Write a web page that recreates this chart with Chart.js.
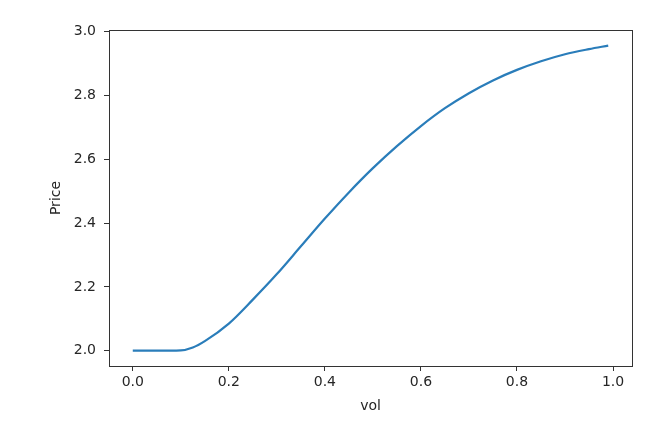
<!DOCTYPE html>
<html>
<head>
<meta charset="utf-8">
<script src="https://cdn.jsdelivr.net/npm/chart.js@4.4.1/dist/chart.umd.min.js"></script>
<style>
  html, body { margin: 0; padding: 0; background: #fff; }
  #wrap { width: 670px; height: 436px; }
</style>
</head>
<body>
<div id="wrap"><canvas id="myChart" width="670" height="436"></canvas></div>
<script>
// values
const vol = [0.00, 0.05, 0.10, 0.125, 0.15, 0.20, 0.25, 0.30, 0.35, 0.40, 0.45, 0.50,
  0.55, 0.60, 0.65, 0.70, 0.75, 0.80, 0.85, 0.90, 0.95, 0.99];
const price = [2.000, 2.000, 2.001, 2.010, 2.030, 2.085, 2.160, 2.240, 2.327, 2.414, 2.496, 2.572,
  2.641, 2.704, 2.760, 2.807, 2.847, 2.880, 2.907, 2.929, 2.945, 2.956];
const xTicks = [0.0, 0.2, 0.4, 0.6, 0.8, 1.0];
const yTicks = [2.0, 2.2, 2.4, 2.6, 2.8, 3.0];

const FONT = 'DejaVu Sans';
const INK = '#262626';

// frame round the plot area, like matplotlib spines
const framePlugin = {
  id: 'frame',
  afterDraw(chart) {
    const { ctx, chartArea: a } = chart;
    ctx.save();
    ctx.strokeStyle = '#333';
    ctx.lineWidth = 1;
    ctx.strokeRect(Math.round(a.left) + 0.5, Math.round(a.top) + 0.5,
      Math.round(a.right - a.left), Math.round(a.bottom - a.top));
    ctx.restore();
  },
};

const data = {
  datasets: [
    {
      label: 'Price',
      data: vol.map((v, i) => ({ x: v, y: price[i] })),
      borderColor: '#2a7dba',
      borderWidth: 2.2,
      pointRadius: 0,
      fill: false,
      cubicInterpolationMode: 'monotone',
    },
  ],
};

const config = {
  type: 'line',
  data: data,
  plugins: [framePlugin],
  options: {
    responsive: false,
    animation: false,
    layout: { padding: { top: 30, right: 38, left: 0, bottom: 0 } },
    plugins: { legend: { display: false }, tooltip: { enabled: false } },
    scales: {
      x: {
        type: 'linear',
        min: -0.0495,
        max: 1.0395,
        afterBuildTicks: (scale) => { scale.ticks = xTicks.map((v) => ({ value: v })); },
        afterFit: (scale) => { scale.height = 70; },
        grid: { drawOnChartArea: false, drawTicks: true, tickLength: 5, color: '#333' },
        border: { display: false },
        ticks: {
          padding: 3,
          color: INK,
          font: { family: FONT, size: 14 },
          maxRotation: 0,
          callback: (v) => Number(v).toFixed(1),
        },
        title: {
          display: true,
          text: 'vol',
          color: INK,
          font: { family: FONT, size: 14 },
          padding: { top: 0, bottom: 21 },
        },
      },
      y: {
        type: 'linear',
        min: 1.952,
        max: 3.005,
        afterBuildTicks: (scale) => { scale.ticks = yTicks.map((v) => ({ value: v })); },
        afterFit: (scale) => { scale.width = 109; },
        grid: { drawOnChartArea: false, drawTicks: true, tickLength: 5, color: '#333' },
        border: { display: false },
        ticks: {
          padding: 8,
          color: INK,
          font: { family: FONT, size: 14 },
          callback: (v) => Number(v).toFixed(1),
        },
        title: {
          display: true,
          text: 'Price',
          color: INK,
          font: { family: FONT, size: 14 },
          padding: { top: 48, bottom: 0 },
        },
      },
    },
  },
};

const myChart = new Chart(document.getElementById('myChart'), config);
</script>
</body>
</html>
